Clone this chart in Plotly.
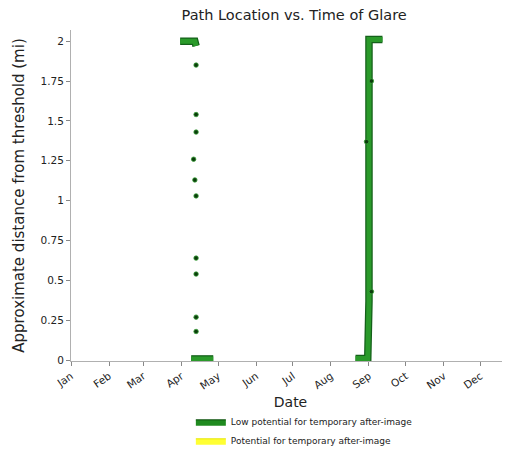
import plotly.graph_objects as go

# ---- data ----
# dense runs of glare points (drawn as thick strokes), None separates runs
dense_dates = ["2023-03-31", "2023-04-12", "2023-04-13", None,
               "2023-04-09", "2023-04-27", None,
               "2023-08-21", "2023-08-31", "2023-09-01", "2023-09-01", "2023-09-01", "2023-09-12"]
dense_dist = [2.0, 2.0, 1.97, None,
              0.008, 0.008, None,
              0.01, 0.01, 0.37, 1.37, 2.01, 2.01]

# isolated glare points
pt_dates = ["2023-04-13", "2023-04-13", "2023-04-13", "2023-04-11", "2023-04-12",
            "2023-04-13", "2023-04-13", "2023-04-13", "2023-04-13", "2023-04-13",
            "2023-09-03", "2023-09-03", "2023-08-30"]
pt_dist = [1.85, 1.54, 1.43, 1.26, 1.13, 1.03, 0.64, 0.54, 0.27, 0.18,
           1.75, 0.43, 1.37]

month_ticks = ["2023-01-01", "2023-02-01", "2023-03-01", "2023-04-01", "2023-05-01",
               "2023-06-01", "2023-07-01", "2023-08-01", "2023-09-01", "2023-10-01",
               "2023-11-01", "2023-12-01"]
month_labels = ["Jan", "Feb", "Mar", "Apr", "May", "Jun", "Jul", "Aug", "Sep", "Oct", "Nov", "Dec"]
y_ticks = [0, 0.25, 0.5, 0.75, 1, 1.25, 1.5, 1.75, 2]
y_labels = ["0", "0.25", "0.5", "0.75", "1", "1.25", "1.5", "1.75", "2"]

series_names = ["Low potential for temporary after-image", "Potential for temporary after-image"]
series_colors = ["#1f8a1f", "#ffff33"]
series_edges = ["#0d4d0d", "#e6e600"]

FONT = "DejaVu Sans"

fig = go.Figure()

# dark outline stroke
fig.add_trace(go.Scatter(x=dense_dates, y=dense_dist, mode="lines",
                         line=dict(color="#14601a", width=7.5), showlegend=False,
                         connectgaps=False, hoverinfo="skip"))
# green fill stroke
fig.add_trace(go.Scatter(x=dense_dates, y=dense_dist, mode="lines",
                         line=dict(color="#2a9a2a", width=5), showlegend=False,
                         connectgaps=False, hoverinfo="skip"))
# isolated points
fig.add_trace(go.Scatter(x=pt_dates, y=pt_dist, mode="markers",
                         marker=dict(color="#0b3d0b", size=4.5,
                                     line=dict(color="#3aa03a", width=0.8)),
                         showlegend=False))

# legend entries
for name, col, edge in zip(series_names, series_colors, series_edges):
    fig.add_trace(go.Scatter(x=[None], y=[None], mode="lines", fill="toself",
                             fillcolor=col, line=dict(color=edge, width=1),
                             name=name, showlegend=True))

# page body has an 8px margin, so the figure is sized to the visible window
fig.update_layout(
    width=502, height=447,
    margin=dict(l=63, r=0, t=22, b=94, autoexpand=False),
    paper_bgcolor="white", plot_bgcolor="white",
    font=dict(family=FONT, color="#222222"),
    title=dict(text="Path Location vs. Time of Glare", x=0.57, xanchor="center",
               y=0.984, yanchor="middle", font=dict(size=14.5, color="#222222"),
               automargin=False),
    showlegend=True,
    legend=dict(orientation="v", x=0.273, xanchor="left", y=-0.14, yanchor="top",
                font=dict(size=9, color="#222222"), bgcolor="rgba(0,0,0,0)",
                tracegroupgap=0, itemwidth=30),
)

fig.update_xaxes(
    type="date", range=["2023-01-01", "2023-12-25"], automargin=False,
    tickmode="array", tickvals=month_ticks, ticktext=month_labels,
    tickangle=-35, tickfont=dict(size=10.5, color="#222222"),
    showline=True, linecolor="#b0b0b0", linewidth=1,
    ticks="outside", ticklen=4, tickcolor="#888888",
    showgrid=False, zeroline=False,
    title=dict(text="Date", font=dict(size=14, color="#222222"), standoff=6),
)
fig.update_yaxes(
    range=[-0.005, 2.07], automargin=False,
    tickmode="array", tickvals=y_ticks, ticktext=y_labels,
    tickfont=dict(size=10.5, color="#222222"),
    showline=True, linecolor="#b0b0b0", linewidth=1,
    ticks="outside", ticklen=4, tickcolor="#888888",
    showgrid=False, zeroline=False,
    title=dict(text="Approximate distance from threshold (mi)",
               font=dict(size=15, color="#222222"), standoff=12),
)

fig.write_html("out.html")
